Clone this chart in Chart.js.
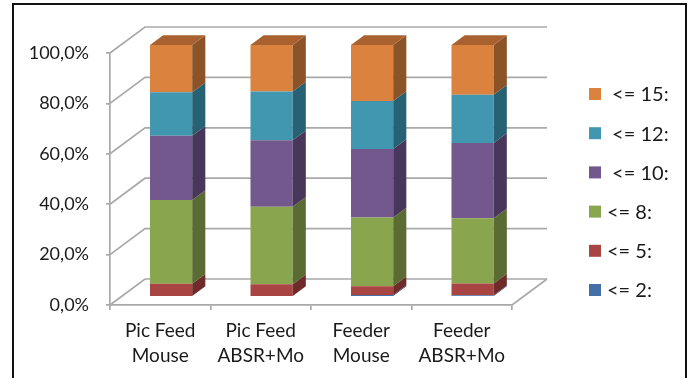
<!DOCTYPE html>
<html>
<head>
<meta charset="utf-8">
<script src="https://cdn.jsdelivr.net/npm/chart.js@4/dist/chart.umd.min.js"></script>
<style>
  html, body { margin: 0; padding: 0; background: #ffffff; }
  canvas { display: block; }
</style>
</head>
<body>
<canvas id="chart" width="700" height="378"></canvas>
<script>
// Categories (two-line axis labels)
const categories = [
  ['Pic Feed', 'Mouse'],
  ['Pic Feed', 'ABSR+Mo'],
  ['Feeder', 'Mouse'],
  ['Feeder', 'ABSR+Mo']
];

// Series names, bottom of the stack first
const seriesLabels = ['<= 2:', '<= 5:', '<= 8:', ' <= 10:', ' <= 12:', ' <= 15:'];

// Share of each class per category, in percent
const le2  = [0.0, 0.0, 0.8, 0.7];
const le5  = [5.2, 5.0, 3.4, 4.6];
const le8  = [33.3, 30.8, 27.3, 25.9];
const le10 = [25.5, 26.4, 27.2, 29.9];
const le12 = [17.2, 19.3, 19.1, 19.1];
const le15 = [18.8, 18.5, 22.2, 19.8];

// Value axis ticks and their labels
const yTicks = [0, 20, 40, 60, 80, 100];
const yTickLabels = ['0,0%', '20,0%', '40,0%', '60,0%', '80,0%', '100,0%'];

// Face colours per series
const frontColors = ['#4470A7', '#A84542', '#89A54E', '#72588C', '#4297B0', '#DB823F'];
const sideColors  = ['#2C4B73', '#6E2B29', '#5A6C33', '#48375B', '#266273', '#8B5327'];
const topColors   = ['#3A5F8E', '#8C3836', '#728A40', '#5C4775', '#347D91', '#A9622F'];

const seriesValues = [le2, le5, le8, le10, le12, le15];

// Perspective offsets of the plot box (front plane -> back wall)
const DEPTH = { x: 35, y: 26 };
const BAR_FRONT = 0.31;   // bars start this far into the box
const BAR_DEPTH = 0.375;  // and are this deep
const GRID_COLOR = '#a9a9a9';

const box3d = {
  id: 'box3d',
  beforeDatasetsDraw(chart) {
    const { ctx, chartArea: a, scales: { y } } = chart;
    ctx.save();
    ctx.strokeStyle = GRID_COLOR;
    ctx.lineWidth = 1.7;
    // side wall + back wall gridlines
    yTicks.forEach(v => {
      const py = y.getPixelForValue(v);
      ctx.beginPath();
      ctx.moveTo(a.left, py);
      ctx.lineTo(a.left + DEPTH.x, py - DEPTH.y);
      ctx.lineTo(a.right + DEPTH.x, py - DEPTH.y);
      ctx.stroke();
    });
    // right edge of the floor
    const p0 = y.getPixelForValue(0);
    ctx.beginPath();
    ctx.moveTo(a.right, p0);
    ctx.lineTo(a.right + DEPTH.x, p0 - DEPTH.y);
    ctx.stroke();
    ctx.restore();

    // push the bars back into the box
    ctx.save();
    ctx.translate(DEPTH.x * BAR_FRONT, -DEPTH.y * BAR_FRONT);
  },
  afterDatasetsDraw(chart) {
    const ctx = chart.ctx;
    const dx = DEPTH.x * BAR_DEPTH, dy = DEPTH.y * BAR_DEPTH;
    const n = chart.data.labels.length;
    const topIndex = new Array(n).fill(-1);

    chart.data.datasets.forEach((ds, i) => {
      const meta = chart.getDatasetMeta(i);
      meta.data.forEach((bar, j) => {
        const { x, y, base, width } = bar.getProps(['x', 'y', 'base', 'width'], true);
        const r = x + width / 2;
        const t = Math.min(y, base), b = Math.max(y, base);
        if (b - t < 0.05) return;
        topIndex[j] = i;
        ctx.fillStyle = sideColors[i];
        ctx.beginPath();
        ctx.moveTo(r, t);
        ctx.lineTo(r + dx, t - dy);
        ctx.lineTo(r + dx, b - dy);
        ctx.lineTo(r, b);
        ctx.closePath();
        ctx.fill();
      });
    });

    // lid of each stack
    topIndex.forEach((i, j) => {
      if (i < 0) return;
      const bar = chart.getDatasetMeta(i).data[j];
      const { x, y, base, width } = bar.getProps(['x', 'y', 'base', 'width'], true);
      const l = x - width / 2, r = x + width / 2, t = Math.min(y, base);
      ctx.fillStyle = topColors[i];
      ctx.beginPath();
      ctx.moveTo(l, t);
      ctx.lineTo(l + dx, t - dy);
      ctx.lineTo(r + dx, t - dy);
      ctx.lineTo(r, t);
      ctx.closePath();
      ctx.fill();
    });

    ctx.restore();
  },
  afterDraw(chart) {
    const ctx = chart.ctx;
    ctx.save();
    // legend, top series first
    ctx.font = '20px Lato';
    ctx.textBaseline = 'middle';
    ctx.textAlign = 'left';
    const order = chart.data.datasets.map((d, i) => i).reverse();
    order.forEach((i, k) => {
      const cy = 94 + k * 39.2;
      ctx.fillStyle = frontColors[i];
      ctx.fillRect(589, cy - 6, 12, 12);
      ctx.fillStyle = '#1a1a1a';
      ctx.fillText(chart.data.datasets[i].label, 607, cy + 1);
    });
    // chart frame
    ctx.strokeStyle = '#111111';
    ctx.lineWidth = 2;
    ctx.strokeRect(13, 4, 673, 400);
    ctx.restore();
  }
};

Chart.defaults.font.family = 'Lato';
Chart.defaults.font.size = 18;
Chart.defaults.color = '#1a1a1a';

new Chart(document.getElementById('chart'), {
  type: 'bar',
  data: {
    labels: categories,
    datasets: seriesValues.map((vals, i) => ({
      label: seriesLabels[i],
      data: vals,
      backgroundColor: frontColors[i],
      borderWidth: 0,
      barPercentage: 0.42,
      categoryPercentage: 1.0,
      clip: false
    }))
  },
  options: {
    responsive: false,
    animation: false,
    events: [],
    layout: { padding: { top: 53, right: 188, left: 0, bottom: 0 } },
    plugins: {
      legend: { display: false },
      tooltip: { enabled: false }
    },
    scales: {
      x: {
        stacked: true,
        afterFit(s) { s.height = 73; },
        grid: { drawOnChartArea: false, drawTicks: true, tickLength: 5, color: GRID_COLOR, lineWidth: 1.7, offset: true },
        border: { display: true, color: GRID_COLOR, width: 1.7 },
        ticks: { padding: 8, maxRotation: 0, font: { size: 19, lineHeight: 1.32 } }
      },
      y: {
        stacked: true,
        min: 0,
        max: 100,
        afterFit(s) { s.width = 110; },
        afterBuildTicks(s) { s.ticks = yTicks.map(v => ({ value: v })); },
        grid: { drawOnChartArea: false, drawTicks: true, tickLength: 4, color: GRID_COLOR, lineWidth: 1.7 },
        border: { display: true, color: GRID_COLOR, width: 1.7 },
        ticks: {
          padding: 17,
          callback(v) { return yTickLabels[yTicks.indexOf(v)]; },
          font: { size: 18 }
        }
      }
    }
  },
  plugins: [box3d]
});
</script>
</body>
</html>
